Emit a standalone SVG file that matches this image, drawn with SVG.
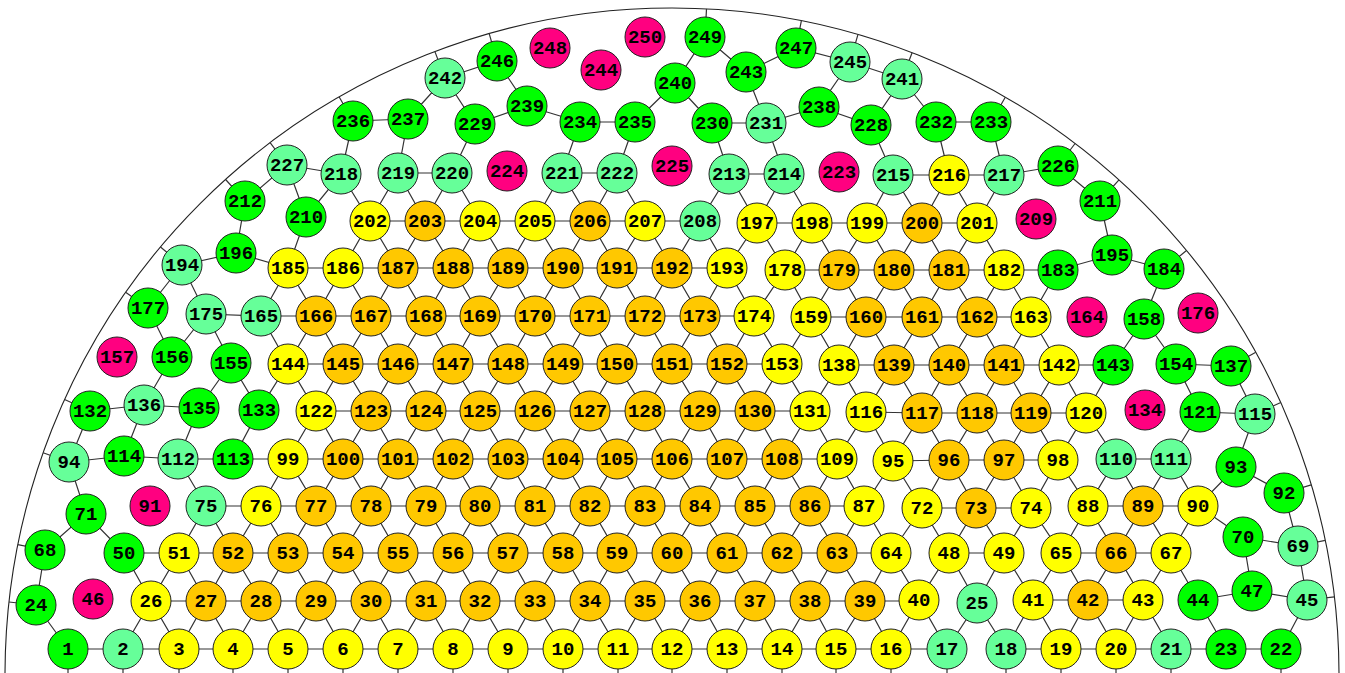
<svg xmlns="http://www.w3.org/2000/svg" width="1345" height="673" viewBox="0 0 1345 673">
<style>
.e{fill:none;stroke:#333;stroke-width:1.2}
.b{fill:none;stroke:#222;stroke-width:1.1}
.n circle{stroke:#222;stroke-width:1}
.G circle{fill:#00ff00}
.L circle{fill:#66ff99}
.Y circle{fill:#ffff00}
.O circle{fill:#ffc800}
.M circle{fill:#ff0080}
text{font-family:"Liberation Mono","DejaVu Sans Mono",monospace;font-weight:bold;font-size:19px;text-anchor:middle;fill:#000}
</style>
<rect width="1345" height="673" fill="#fff"/>
<path id="boundary" class="b" d="M5,675A667,667 0 0 1 1339,675"/>
<g id="connectors">
<path class="e" d="M68,649H947M1006,649H1281M151,601H919M1033,600H1143M1198,600L1252,591L1307,600M124,553H891M949,553H1004M1061,553H1171M1243,537L1298,546M206,506H864M922,508H1031M1088,506H1198M1236,467L1284,493M69,462L124,456L178,459H837M893,461L949,460H1058M1116,459H1171M90,411L144,405L199,408M316,411H810M866,412L922,413H1086M1200,412L1255,414M288,364H782M839,365H1113M1176,364L1231,366M206,314L261,316H754M811,317H1031M182,265L236,253L288,268H727M785,270H1058L1112,255L1164,269M370,221H700M757,223H977M287,165L341,174M398,173H452M562,173H617M729,174H784M893,175H1004L1058,166M353,121L408,119M580,122H635M712,123H766M936,122H991"/>
<path class="e" d="M123,649L151,601L179,649L206,601L233,649L261,601L288,649L316,601L343,649L371,601L398,649L426,601L453,649L480,601L508,649L535,601L563,649L590,601L618,649L645,601L672,649L700,601L727,649L755,601L782,649L810,601L836,649L865,601L891,649L919,600L947,649L977,603L1006,649L1033,600L1061,649L1088,600L1116,649L1143,600L1171,649M36,605L68,649M1198,600L1226,649M1307,600L1281,649"/>
<path class="e" d="M124,553L151,601L179,553L206,601L233,553L261,601L288,553L316,601L343,553L371,601L398,553L426,601L453,553L480,601L508,553L535,601L563,553L590,601L617,553L645,601L672,553L700,601L727,553L755,601L782,553L810,601L837,553L865,601L891,553L919,600L949,553L977,603L1004,553L1033,600L1061,553L1088,600L1116,553L1143,600L1171,553L1198,600M45,550L36,605M1243,537L1252,591M1298,546L1307,600"/>
<path class="e" d="M179,553L206,506L233,553L261,506L288,553L316,506L343,553L371,506L398,553L426,506L453,553L480,506L508,553L535,506L563,553L590,506L617,553L645,506L672,553L700,506L727,553L755,506L782,553L810,506L837,553L864,506L891,553L922,508L949,553L976,508L1004,553L1031,508L1061,553L1088,506L1116,553L1143,506L1171,553L1198,506L1243,537M45,550L86,514L124,553M1284,493L1298,546"/>
<path class="e" d="M261,506L288,459L316,506L343,459L371,506L398,459L426,506L453,459L480,506L508,459L535,506L563,459L590,506L617,459L645,506L672,459L700,506L727,459L755,506L782,459L810,506L837,459L864,506L893,461L922,508L949,460L976,508L1004,460L1031,508L1058,460L1088,506L1116,459L1143,506L1171,459L1198,506L1236,467M178,459L206,506M69,462L86,514"/>
<path class="e" d="M288,459L316,411L343,459L371,411L398,459L426,411L453,459L480,411L508,459L535,411L563,459L590,411L617,459L645,411L672,459L700,411L727,459L755,411L782,459L810,411L837,459L866,412L893,461L922,413L949,460L977,413L1004,460L1031,413L1058,460L1086,413L1116,459M90,411L69,462M144,405L124,456M199,408L178,459M259,410L233,459M1200,412L1171,459M1255,414L1236,467"/>
<path class="e" d="M199,408L231,363L259,410L288,364L316,411L343,364L371,411L398,364L426,411L453,364L480,411L508,364L535,411L563,364L590,411L617,364L645,411L672,364L700,411L727,364L755,411L782,364L810,411L839,365L866,412L894,365L922,413L949,365L977,413L1004,365L1031,413L1059,365L1086,413L1113,365M172,357L144,405M1176,364L1200,412M1231,366L1255,414"/>
<path class="e" d="M148,308L172,357L206,314L231,363M261,316L288,364L316,316L343,364L371,316L398,364L426,316L453,364L480,316L508,364L535,316L563,364L590,316L617,364L645,316L672,364L700,316L727,364L754,316L782,364L811,317L839,365L866,317L894,365L922,317L949,365L977,317L1004,365L1031,317L1059,365M1113,365L1144,319L1176,364"/>
<path class="e" d="M148,308L182,265L206,314M261,316L288,268L316,316L343,268L371,316L398,268L426,316L453,268L480,316L508,268L535,316L563,268L590,316L617,268L645,316L672,268L700,316L727,268L754,316L785,270L811,317L839,270L866,317L894,270L922,317L949,270L977,317L1004,270L1031,317L1058,270M1164,269L1144,319"/>
<path class="e" d="M245,201L236,253M306,217L288,268M343,268L370,221L398,268L425,221L453,268L480,221L508,268L535,221L563,268L590,221L617,268L645,221L672,268L700,221L727,268L757,223L785,270L812,223L839,270L867,223L894,270L922,223L949,270L977,223L1004,270M1100,201L1112,255"/>
<path class="e" d="M245,201L287,165L306,217L341,174L370,221L398,173L425,221L452,173L480,221M535,221L562,173L590,221L617,173L645,221M700,221L729,174L757,223L784,174L812,223M867,223L893,175L922,223L949,175L977,223L1004,175M1058,166L1100,201"/>
<path class="e" d="M341,174L353,121M398,173L408,119M452,173L475,124M562,173L580,122M617,173L635,122M729,174L712,123M784,174L766,123M893,175L871,125M949,175L936,122M1004,175L991,122"/>
<path class="e" d="M408,119L445,78L475,124L527,106L497,61L445,78M527,106L580,122M635,122L675,83L705,37L746,72L796,48L850,62L902,79L871,125L819,107L850,62M675,83L712,123M746,72L766,123L819,107M902,79L936,122"/>
<path class="e" d="M68,649V675M123,649V675M179,649V675M233,649V675M288,649V675M343,649V675M398,649V675M453,649V675M508,649V675M563,649V675M618,649V675M672,649V675M727,649V675M782,649V675M836,649V675M891,649V675M947,649V675M1006,649V675M1061,649V675M1116,649V675M1171,649V675M1281,649V675"/>
<path class="e" d="M36,605L9,602M45,550L17.8,544.6M69,462L43.1,452.8M90,411L64.6,399.5M148,308L125.6,292.3M182,265L160.5,247M245,201L225.6,179.5M287,165L270.1,142.7M353,121L339.2,97M445,78L434.9,51.6M497,61L489.2,33.6M705,37L706.5,8.9M796,48L801.4,20.6M850,62L858,34.4M902,79L912.1,52.7M991,122L1005.3,97.2M1058,166L1075.1,143.5M1100,201L1119,179.9M1164,269L1186.5,250.5M1231,366L1255.8,352.3M1255,414L1280.8,402.5M1284,493L1311.3,484.9M1298,546L1325.2,540.4M1307,600L1334.4,596.8"/>
</g>
<g id="n1" class="n G"><circle cx="68" cy="649" r="20"/><text x="68" y="655">1</text></g>
<g id="n2" class="n L"><circle cx="123" cy="649" r="20"/><text x="123" y="655">2</text></g>
<g id="n3" class="n Y"><circle cx="179" cy="649" r="20"/><text x="179" y="655">3</text></g>
<g id="n4" class="n Y"><circle cx="233" cy="649" r="20"/><text x="233" y="655">4</text></g>
<g id="n5" class="n Y"><circle cx="288" cy="649" r="20"/><text x="288" y="655">5</text></g>
<g id="n6" class="n Y"><circle cx="343" cy="649" r="20"/><text x="343" y="655">6</text></g>
<g id="n7" class="n Y"><circle cx="398" cy="649" r="20"/><text x="398" y="655">7</text></g>
<g id="n8" class="n Y"><circle cx="453" cy="649" r="20"/><text x="453" y="655">8</text></g>
<g id="n9" class="n Y"><circle cx="508" cy="649" r="20"/><text x="508" y="655">9</text></g>
<g id="n10" class="n Y"><circle cx="563" cy="649" r="20"/><text x="563" y="655">10</text></g>
<g id="n11" class="n Y"><circle cx="618" cy="649" r="20"/><text x="618" y="655">11</text></g>
<g id="n12" class="n Y"><circle cx="672" cy="649" r="20"/><text x="672" y="655">12</text></g>
<g id="n13" class="n Y"><circle cx="727" cy="649" r="20"/><text x="727" y="655">13</text></g>
<g id="n14" class="n Y"><circle cx="782" cy="649" r="20"/><text x="782" y="655">14</text></g>
<g id="n15" class="n Y"><circle cx="836" cy="649" r="20"/><text x="836" y="655">15</text></g>
<g id="n16" class="n Y"><circle cx="891" cy="649" r="20"/><text x="891" y="655">16</text></g>
<g id="n17" class="n L"><circle cx="947" cy="649" r="20"/><text x="947" y="655">17</text></g>
<g id="n18" class="n L"><circle cx="1006" cy="649" r="20"/><text x="1006" y="655">18</text></g>
<g id="n19" class="n Y"><circle cx="1061" cy="649" r="20"/><text x="1061" y="655">19</text></g>
<g id="n20" class="n Y"><circle cx="1116" cy="649" r="20"/><text x="1116" y="655">20</text></g>
<g id="n21" class="n L"><circle cx="1171" cy="649" r="20"/><text x="1171" y="655">21</text></g>
<g id="n22" class="n G"><circle cx="1281" cy="649" r="20"/><text x="1281" y="655">22</text></g>
<g id="n23" class="n G"><circle cx="1226" cy="649" r="20"/><text x="1226" y="655">23</text></g>
<g id="n24" class="n G"><circle cx="36" cy="605" r="20"/><text x="36" y="611">24</text></g>
<g id="n25" class="n L"><circle cx="977" cy="603" r="20"/><text x="977" y="609">25</text></g>
<g id="n26" class="n Y"><circle cx="151" cy="601" r="20"/><text x="151" y="607">26</text></g>
<g id="n27" class="n O"><circle cx="206" cy="601" r="20"/><text x="206" y="607">27</text></g>
<g id="n28" class="n O"><circle cx="261" cy="601" r="20"/><text x="261" y="607">28</text></g>
<g id="n29" class="n O"><circle cx="316" cy="601" r="20"/><text x="316" y="607">29</text></g>
<g id="n30" class="n O"><circle cx="371" cy="601" r="20"/><text x="371" y="607">30</text></g>
<g id="n31" class="n O"><circle cx="426" cy="601" r="20"/><text x="426" y="607">31</text></g>
<g id="n32" class="n O"><circle cx="480" cy="601" r="20"/><text x="480" y="607">32</text></g>
<g id="n33" class="n O"><circle cx="535" cy="601" r="20"/><text x="535" y="607">33</text></g>
<g id="n34" class="n O"><circle cx="590" cy="601" r="20"/><text x="590" y="607">34</text></g>
<g id="n35" class="n O"><circle cx="645" cy="601" r="20"/><text x="645" y="607">35</text></g>
<g id="n36" class="n O"><circle cx="700" cy="601" r="20"/><text x="700" y="607">36</text></g>
<g id="n37" class="n O"><circle cx="755" cy="601" r="20"/><text x="755" y="607">37</text></g>
<g id="n38" class="n O"><circle cx="810" cy="601" r="20"/><text x="810" y="607">38</text></g>
<g id="n39" class="n O"><circle cx="865" cy="601" r="20"/><text x="865" y="607">39</text></g>
<g id="n40" class="n Y"><circle cx="919" cy="600" r="20"/><text x="919" y="606">40</text></g>
<g id="n41" class="n Y"><circle cx="1033" cy="600" r="20"/><text x="1033" y="606">41</text></g>
<g id="n42" class="n O"><circle cx="1088" cy="600" r="20"/><text x="1088" y="606">42</text></g>
<g id="n43" class="n Y"><circle cx="1143" cy="600" r="20"/><text x="1143" y="606">43</text></g>
<g id="n44" class="n G"><circle cx="1198" cy="600" r="20"/><text x="1198" y="606">44</text></g>
<g id="n45" class="n L"><circle cx="1307" cy="600" r="20"/><text x="1307" y="606">45</text></g>
<g id="n46" class="n M"><circle cx="93" cy="599" r="20"/><text x="93" y="605">46</text></g>
<g id="n47" class="n G"><circle cx="1252" cy="591" r="20"/><text x="1252" y="597">47</text></g>
<g id="n48" class="n Y"><circle cx="949" cy="553" r="20"/><text x="949" y="559">48</text></g>
<g id="n49" class="n Y"><circle cx="1004" cy="553" r="20"/><text x="1004" y="559">49</text></g>
<g id="n50" class="n G"><circle cx="124" cy="553" r="20"/><text x="124" y="559">50</text></g>
<g id="n51" class="n Y"><circle cx="179" cy="553" r="20"/><text x="179" y="559">51</text></g>
<g id="n52" class="n O"><circle cx="233" cy="553" r="20"/><text x="233" y="559">52</text></g>
<g id="n53" class="n O"><circle cx="288" cy="553" r="20"/><text x="288" y="559">53</text></g>
<g id="n54" class="n O"><circle cx="343" cy="553" r="20"/><text x="343" y="559">54</text></g>
<g id="n55" class="n O"><circle cx="398" cy="553" r="20"/><text x="398" y="559">55</text></g>
<g id="n56" class="n O"><circle cx="453" cy="553" r="20"/><text x="453" y="559">56</text></g>
<g id="n57" class="n O"><circle cx="508" cy="553" r="20"/><text x="508" y="559">57</text></g>
<g id="n58" class="n O"><circle cx="563" cy="553" r="20"/><text x="563" y="559">58</text></g>
<g id="n59" class="n O"><circle cx="617" cy="553" r="20"/><text x="617" y="559">59</text></g>
<g id="n60" class="n O"><circle cx="672" cy="553" r="20"/><text x="672" y="559">60</text></g>
<g id="n61" class="n O"><circle cx="727" cy="553" r="20"/><text x="727" y="559">61</text></g>
<g id="n62" class="n O"><circle cx="782" cy="553" r="20"/><text x="782" y="559">62</text></g>
<g id="n63" class="n O"><circle cx="837" cy="553" r="20"/><text x="837" y="559">63</text></g>
<g id="n64" class="n Y"><circle cx="891" cy="553" r="20"/><text x="891" y="559">64</text></g>
<g id="n65" class="n Y"><circle cx="1061" cy="553" r="20"/><text x="1061" y="559">65</text></g>
<g id="n66" class="n O"><circle cx="1116" cy="553" r="20"/><text x="1116" y="559">66</text></g>
<g id="n67" class="n Y"><circle cx="1171" cy="553" r="20"/><text x="1171" y="559">67</text></g>
<g id="n68" class="n G"><circle cx="45" cy="550" r="20"/><text x="45" y="556">68</text></g>
<g id="n69" class="n L"><circle cx="1298" cy="546" r="20"/><text x="1298" y="552">69</text></g>
<g id="n70" class="n G"><circle cx="1243" cy="537" r="20"/><text x="1243" y="543">70</text></g>
<g id="n71" class="n G"><circle cx="86" cy="514" r="20"/><text x="86" y="520">71</text></g>
<g id="n72" class="n Y"><circle cx="922" cy="508" r="20"/><text x="922" y="514">72</text></g>
<g id="n73" class="n O"><circle cx="976" cy="508" r="20"/><text x="976" y="514">73</text></g>
<g id="n74" class="n Y"><circle cx="1031" cy="508" r="20"/><text x="1031" y="514">74</text></g>
<g id="n75" class="n L"><circle cx="206" cy="506" r="20"/><text x="206" y="512">75</text></g>
<g id="n76" class="n Y"><circle cx="261" cy="506" r="20"/><text x="261" y="512">76</text></g>
<g id="n77" class="n O"><circle cx="316" cy="506" r="20"/><text x="316" y="512">77</text></g>
<g id="n78" class="n O"><circle cx="371" cy="506" r="20"/><text x="371" y="512">78</text></g>
<g id="n79" class="n O"><circle cx="426" cy="506" r="20"/><text x="426" y="512">79</text></g>
<g id="n80" class="n O"><circle cx="480" cy="506" r="20"/><text x="480" y="512">80</text></g>
<g id="n81" class="n O"><circle cx="535" cy="506" r="20"/><text x="535" y="512">81</text></g>
<g id="n82" class="n O"><circle cx="590" cy="506" r="20"/><text x="590" y="512">82</text></g>
<g id="n83" class="n O"><circle cx="645" cy="506" r="20"/><text x="645" y="512">83</text></g>
<g id="n84" class="n O"><circle cx="700" cy="506" r="20"/><text x="700" y="512">84</text></g>
<g id="n85" class="n O"><circle cx="755" cy="506" r="20"/><text x="755" y="512">85</text></g>
<g id="n86" class="n O"><circle cx="810" cy="506" r="20"/><text x="810" y="512">86</text></g>
<g id="n87" class="n Y"><circle cx="864" cy="506" r="20"/><text x="864" y="512">87</text></g>
<g id="n88" class="n Y"><circle cx="1088" cy="506" r="20"/><text x="1088" y="512">88</text></g>
<g id="n89" class="n O"><circle cx="1143" cy="506" r="20"/><text x="1143" y="512">89</text></g>
<g id="n90" class="n Y"><circle cx="1198" cy="506" r="20"/><text x="1198" y="512">90</text></g>
<g id="n91" class="n M"><circle cx="150" cy="506" r="20"/><text x="150" y="512">91</text></g>
<g id="n92" class="n G"><circle cx="1284" cy="493" r="20"/><text x="1284" y="499">92</text></g>
<g id="n93" class="n G"><circle cx="1236" cy="467" r="20"/><text x="1236" y="473">93</text></g>
<g id="n94" class="n L"><circle cx="69" cy="462" r="20"/><text x="69" y="468">94</text></g>
<g id="n95" class="n Y"><circle cx="893" cy="461" r="20"/><text x="893" y="467">95</text></g>
<g id="n96" class="n O"><circle cx="949" cy="460" r="20"/><text x="949" y="466">96</text></g>
<g id="n97" class="n O"><circle cx="1004" cy="460" r="20"/><text x="1004" y="466">97</text></g>
<g id="n98" class="n Y"><circle cx="1058" cy="460" r="20"/><text x="1058" y="466">98</text></g>
<g id="n99" class="n Y"><circle cx="288" cy="459" r="20"/><text x="288" y="465">99</text></g>
<g id="n100" class="n O"><circle cx="343" cy="459" r="20"/><text x="343" y="465">100</text></g>
<g id="n101" class="n O"><circle cx="398" cy="459" r="20"/><text x="398" y="465">101</text></g>
<g id="n102" class="n O"><circle cx="453" cy="459" r="20"/><text x="453" y="465">102</text></g>
<g id="n103" class="n O"><circle cx="508" cy="459" r="20"/><text x="508" y="465">103</text></g>
<g id="n104" class="n O"><circle cx="563" cy="459" r="20"/><text x="563" y="465">104</text></g>
<g id="n105" class="n O"><circle cx="617" cy="459" r="20"/><text x="617" y="465">105</text></g>
<g id="n106" class="n O"><circle cx="672" cy="459" r="20"/><text x="672" y="465">106</text></g>
<g id="n107" class="n O"><circle cx="727" cy="459" r="20"/><text x="727" y="465">107</text></g>
<g id="n108" class="n O"><circle cx="782" cy="459" r="20"/><text x="782" y="465">108</text></g>
<g id="n109" class="n Y"><circle cx="837" cy="459" r="20"/><text x="837" y="465">109</text></g>
<g id="n110" class="n L"><circle cx="1116" cy="459" r="20"/><text x="1116" y="465">110</text></g>
<g id="n111" class="n L"><circle cx="1171" cy="459" r="20"/><text x="1171" y="465">111</text></g>
<g id="n112" class="n L"><circle cx="178" cy="459" r="20"/><text x="178" y="465">112</text></g>
<g id="n113" class="n G"><circle cx="233" cy="459" r="20"/><text x="233" y="465">113</text></g>
<g id="n114" class="n G"><circle cx="124" cy="456" r="20"/><text x="124" y="462">114</text></g>
<g id="n115" class="n L"><circle cx="1255" cy="414" r="20"/><text x="1255" y="420">115</text></g>
<g id="n116" class="n Y"><circle cx="866" cy="412" r="20"/><text x="866" y="418">116</text></g>
<g id="n117" class="n O"><circle cx="922" cy="413" r="20"/><text x="922" y="419">117</text></g>
<g id="n118" class="n O"><circle cx="977" cy="413" r="20"/><text x="977" y="419">118</text></g>
<g id="n119" class="n O"><circle cx="1031" cy="413" r="20"/><text x="1031" y="419">119</text></g>
<g id="n120" class="n Y"><circle cx="1086" cy="413" r="20"/><text x="1086" y="419">120</text></g>
<g id="n121" class="n G"><circle cx="1200" cy="412" r="20"/><text x="1200" y="418">121</text></g>
<g id="n122" class="n Y"><circle cx="316" cy="411" r="20"/><text x="316" y="417">122</text></g>
<g id="n123" class="n O"><circle cx="371" cy="411" r="20"/><text x="371" y="417">123</text></g>
<g id="n124" class="n O"><circle cx="426" cy="411" r="20"/><text x="426" y="417">124</text></g>
<g id="n125" class="n O"><circle cx="480" cy="411" r="20"/><text x="480" y="417">125</text></g>
<g id="n126" class="n O"><circle cx="535" cy="411" r="20"/><text x="535" y="417">126</text></g>
<g id="n127" class="n O"><circle cx="590" cy="411" r="20"/><text x="590" y="417">127</text></g>
<g id="n128" class="n O"><circle cx="645" cy="411" r="20"/><text x="645" y="417">128</text></g>
<g id="n129" class="n O"><circle cx="700" cy="411" r="20"/><text x="700" y="417">129</text></g>
<g id="n130" class="n O"><circle cx="755" cy="411" r="20"/><text x="755" y="417">130</text></g>
<g id="n131" class="n Y"><circle cx="810" cy="411" r="20"/><text x="810" y="417">131</text></g>
<g id="n132" class="n G"><circle cx="90" cy="411" r="20"/><text x="90" y="417">132</text></g>
<g id="n133" class="n G"><circle cx="259" cy="410" r="20"/><text x="259" y="416">133</text></g>
<g id="n134" class="n M"><circle cx="1145" cy="410" r="20"/><text x="1145" y="416">134</text></g>
<g id="n135" class="n G"><circle cx="199" cy="408" r="20"/><text x="199" y="414">135</text></g>
<g id="n136" class="n L"><circle cx="144" cy="405" r="20"/><text x="144" y="411">136</text></g>
<g id="n137" class="n G"><circle cx="1231" cy="366" r="20"/><text x="1231" y="372">137</text></g>
<g id="n138" class="n Y"><circle cx="839" cy="365" r="20"/><text x="839" y="371">138</text></g>
<g id="n139" class="n O"><circle cx="894" cy="365" r="20"/><text x="894" y="371">139</text></g>
<g id="n140" class="n O"><circle cx="949" cy="365" r="20"/><text x="949" y="371">140</text></g>
<g id="n141" class="n O"><circle cx="1004" cy="365" r="20"/><text x="1004" y="371">141</text></g>
<g id="n142" class="n Y"><circle cx="1059" cy="365" r="20"/><text x="1059" y="371">142</text></g>
<g id="n143" class="n G"><circle cx="1113" cy="365" r="20"/><text x="1113" y="371">143</text></g>
<g id="n144" class="n Y"><circle cx="288" cy="364" r="20"/><text x="288" y="370">144</text></g>
<g id="n145" class="n O"><circle cx="343" cy="364" r="20"/><text x="343" y="370">145</text></g>
<g id="n146" class="n O"><circle cx="398" cy="364" r="20"/><text x="398" y="370">146</text></g>
<g id="n147" class="n O"><circle cx="453" cy="364" r="20"/><text x="453" y="370">147</text></g>
<g id="n148" class="n O"><circle cx="508" cy="364" r="20"/><text x="508" y="370">148</text></g>
<g id="n149" class="n O"><circle cx="563" cy="364" r="20"/><text x="563" y="370">149</text></g>
<g id="n150" class="n O"><circle cx="617" cy="364" r="20"/><text x="617" y="370">150</text></g>
<g id="n151" class="n O"><circle cx="672" cy="364" r="20"/><text x="672" y="370">151</text></g>
<g id="n152" class="n O"><circle cx="727" cy="364" r="20"/><text x="727" y="370">152</text></g>
<g id="n153" class="n Y"><circle cx="782" cy="364" r="20"/><text x="782" y="370">153</text></g>
<g id="n154" class="n G"><circle cx="1176" cy="364" r="20"/><text x="1176" y="370">154</text></g>
<g id="n155" class="n G"><circle cx="231" cy="363" r="20"/><text x="231" y="369">155</text></g>
<g id="n156" class="n G"><circle cx="172" cy="357" r="20"/><text x="172" y="363">156</text></g>
<g id="n157" class="n M"><circle cx="117" cy="357" r="20"/><text x="117" y="363">157</text></g>
<g id="n158" class="n G"><circle cx="1144" cy="319" r="20"/><text x="1144" y="325">158</text></g>
<g id="n159" class="n Y"><circle cx="811" cy="317" r="20"/><text x="811" y="323">159</text></g>
<g id="n160" class="n O"><circle cx="866" cy="317" r="20"/><text x="866" y="323">160</text></g>
<g id="n161" class="n O"><circle cx="922" cy="317" r="20"/><text x="922" y="323">161</text></g>
<g id="n162" class="n O"><circle cx="977" cy="317" r="20"/><text x="977" y="323">162</text></g>
<g id="n163" class="n Y"><circle cx="1031" cy="317" r="20"/><text x="1031" y="323">163</text></g>
<g id="n164" class="n M"><circle cx="1087" cy="317" r="20"/><text x="1087" y="323">164</text></g>
<g id="n165" class="n L"><circle cx="261" cy="316" r="20"/><text x="261" y="322">165</text></g>
<g id="n166" class="n O"><circle cx="316" cy="316" r="20"/><text x="316" y="322">166</text></g>
<g id="n167" class="n O"><circle cx="371" cy="316" r="20"/><text x="371" y="322">167</text></g>
<g id="n168" class="n O"><circle cx="426" cy="316" r="20"/><text x="426" y="322">168</text></g>
<g id="n169" class="n O"><circle cx="480" cy="316" r="20"/><text x="480" y="322">169</text></g>
<g id="n170" class="n O"><circle cx="535" cy="316" r="20"/><text x="535" y="322">170</text></g>
<g id="n171" class="n O"><circle cx="590" cy="316" r="20"/><text x="590" y="322">171</text></g>
<g id="n172" class="n O"><circle cx="645" cy="316" r="20"/><text x="645" y="322">172</text></g>
<g id="n173" class="n O"><circle cx="700" cy="316" r="20"/><text x="700" y="322">173</text></g>
<g id="n174" class="n Y"><circle cx="754" cy="316" r="20"/><text x="754" y="322">174</text></g>
<g id="n175" class="n L"><circle cx="206" cy="314" r="20"/><text x="206" y="320">175</text></g>
<g id="n176" class="n M"><circle cx="1198" cy="313" r="20"/><text x="1198" y="319">176</text></g>
<g id="n177" class="n G"><circle cx="148" cy="308" r="20"/><text x="148" y="314">177</text></g>
<g id="n178" class="n Y"><circle cx="785" cy="270" r="20"/><text x="785" y="276">178</text></g>
<g id="n179" class="n O"><circle cx="839" cy="270" r="20"/><text x="839" y="276">179</text></g>
<g id="n180" class="n O"><circle cx="894" cy="270" r="20"/><text x="894" y="276">180</text></g>
<g id="n181" class="n O"><circle cx="949" cy="270" r="20"/><text x="949" y="276">181</text></g>
<g id="n182" class="n Y"><circle cx="1004" cy="270" r="20"/><text x="1004" y="276">182</text></g>
<g id="n183" class="n G"><circle cx="1058" cy="270" r="20"/><text x="1058" y="276">183</text></g>
<g id="n184" class="n G"><circle cx="1164" cy="269" r="20"/><text x="1164" y="275">184</text></g>
<g id="n185" class="n Y"><circle cx="288" cy="268" r="20"/><text x="288" y="274">185</text></g>
<g id="n186" class="n Y"><circle cx="343" cy="268" r="20"/><text x="343" y="274">186</text></g>
<g id="n187" class="n O"><circle cx="398" cy="268" r="20"/><text x="398" y="274">187</text></g>
<g id="n188" class="n O"><circle cx="453" cy="268" r="20"/><text x="453" y="274">188</text></g>
<g id="n189" class="n O"><circle cx="508" cy="268" r="20"/><text x="508" y="274">189</text></g>
<g id="n190" class="n O"><circle cx="563" cy="268" r="20"/><text x="563" y="274">190</text></g>
<g id="n191" class="n O"><circle cx="617" cy="268" r="20"/><text x="617" y="274">191</text></g>
<g id="n192" class="n O"><circle cx="672" cy="268" r="20"/><text x="672" y="274">192</text></g>
<g id="n193" class="n Y"><circle cx="727" cy="268" r="20"/><text x="727" y="274">193</text></g>
<g id="n194" class="n L"><circle cx="182" cy="265" r="20"/><text x="182" y="271">194</text></g>
<g id="n195" class="n G"><circle cx="1112" cy="255" r="20"/><text x="1112" y="261">195</text></g>
<g id="n196" class="n G"><circle cx="236" cy="253" r="20"/><text x="236" y="259">196</text></g>
<g id="n197" class="n Y"><circle cx="757" cy="223" r="20"/><text x="757" y="229">197</text></g>
<g id="n198" class="n Y"><circle cx="812" cy="223" r="20"/><text x="812" y="229">198</text></g>
<g id="n199" class="n Y"><circle cx="867" cy="223" r="20"/><text x="867" y="229">199</text></g>
<g id="n200" class="n O"><circle cx="922" cy="223" r="20"/><text x="922" y="229">200</text></g>
<g id="n201" class="n Y"><circle cx="977" cy="223" r="20"/><text x="977" y="229">201</text></g>
<g id="n202" class="n Y"><circle cx="370" cy="221" r="20"/><text x="370" y="227">202</text></g>
<g id="n203" class="n O"><circle cx="425" cy="221" r="20"/><text x="425" y="227">203</text></g>
<g id="n204" class="n Y"><circle cx="480" cy="221" r="20"/><text x="480" y="227">204</text></g>
<g id="n205" class="n Y"><circle cx="535" cy="221" r="20"/><text x="535" y="227">205</text></g>
<g id="n206" class="n O"><circle cx="590" cy="221" r="20"/><text x="590" y="227">206</text></g>
<g id="n207" class="n Y"><circle cx="645" cy="221" r="20"/><text x="645" y="227">207</text></g>
<g id="n208" class="n L"><circle cx="700" cy="221" r="20"/><text x="700" y="227">208</text></g>
<g id="n209" class="n M"><circle cx="1036" cy="219" r="20"/><text x="1036" y="225">209</text></g>
<g id="n210" class="n G"><circle cx="306" cy="217" r="20"/><text x="306" y="223">210</text></g>
<g id="n211" class="n G"><circle cx="1100" cy="201" r="20"/><text x="1100" y="207">211</text></g>
<g id="n212" class="n G"><circle cx="245" cy="201" r="20"/><text x="245" y="207">212</text></g>
<g id="n213" class="n L"><circle cx="729" cy="174" r="20"/><text x="729" y="180">213</text></g>
<g id="n214" class="n L"><circle cx="784" cy="174" r="20"/><text x="784" y="180">214</text></g>
<g id="n215" class="n L"><circle cx="893" cy="175" r="20"/><text x="893" y="181">215</text></g>
<g id="n216" class="n Y"><circle cx="949" cy="175" r="20"/><text x="949" y="181">216</text></g>
<g id="n217" class="n L"><circle cx="1004" cy="175" r="20"/><text x="1004" y="181">217</text></g>
<g id="n218" class="n L"><circle cx="341" cy="174" r="20"/><text x="341" y="180">218</text></g>
<g id="n219" class="n L"><circle cx="398" cy="173" r="20"/><text x="398" y="179">219</text></g>
<g id="n220" class="n L"><circle cx="452" cy="173" r="20"/><text x="452" y="179">220</text></g>
<g id="n221" class="n L"><circle cx="562" cy="173" r="20"/><text x="562" y="179">221</text></g>
<g id="n222" class="n L"><circle cx="617" cy="173" r="20"/><text x="617" y="179">222</text></g>
<g id="n223" class="n M"><circle cx="839" cy="172" r="20"/><text x="839" y="178">223</text></g>
<g id="n224" class="n M"><circle cx="507" cy="171" r="20"/><text x="507" y="177">224</text></g>
<g id="n225" class="n M"><circle cx="672" cy="166" r="20"/><text x="672" y="172">225</text></g>
<g id="n226" class="n G"><circle cx="1058" cy="166" r="20"/><text x="1058" y="172">226</text></g>
<g id="n227" class="n L"><circle cx="287" cy="165" r="20"/><text x="287" y="171">227</text></g>
<g id="n228" class="n G"><circle cx="871" cy="125" r="20"/><text x="871" y="131">228</text></g>
<g id="n229" class="n G"><circle cx="475" cy="124" r="20"/><text x="475" y="130">229</text></g>
<g id="n230" class="n G"><circle cx="712" cy="123" r="20"/><text x="712" y="129">230</text></g>
<g id="n231" class="n L"><circle cx="766" cy="123" r="20"/><text x="766" y="129">231</text></g>
<g id="n232" class="n G"><circle cx="936" cy="122" r="20"/><text x="936" y="128">232</text></g>
<g id="n233" class="n G"><circle cx="991" cy="122" r="20"/><text x="991" y="128">233</text></g>
<g id="n234" class="n G"><circle cx="580" cy="122" r="20"/><text x="580" y="128">234</text></g>
<g id="n235" class="n G"><circle cx="635" cy="122" r="20"/><text x="635" y="128">235</text></g>
<g id="n236" class="n G"><circle cx="353" cy="121" r="20"/><text x="353" y="127">236</text></g>
<g id="n237" class="n G"><circle cx="408" cy="119" r="20"/><text x="408" y="125">237</text></g>
<g id="n238" class="n G"><circle cx="819" cy="107" r="20"/><text x="819" y="113">238</text></g>
<g id="n239" class="n G"><circle cx="527" cy="106" r="20"/><text x="527" y="112">239</text></g>
<g id="n240" class="n G"><circle cx="675" cy="83" r="20"/><text x="675" y="89">240</text></g>
<g id="n241" class="n L"><circle cx="902" cy="79" r="20"/><text x="902" y="85">241</text></g>
<g id="n242" class="n L"><circle cx="445" cy="78" r="20"/><text x="445" y="84">242</text></g>
<g id="n243" class="n G"><circle cx="746" cy="72" r="20"/><text x="746" y="78">243</text></g>
<g id="n244" class="n M"><circle cx="601" cy="70" r="20"/><text x="601" y="76">244</text></g>
<g id="n245" class="n L"><circle cx="850" cy="62" r="20"/><text x="850" y="68">245</text></g>
<g id="n246" class="n G"><circle cx="497" cy="61" r="20"/><text x="497" y="67">246</text></g>
<g id="n247" class="n G"><circle cx="796" cy="48" r="20"/><text x="796" y="54">247</text></g>
<g id="n248" class="n M"><circle cx="550" cy="48" r="20"/><text x="550" y="54">248</text></g>
<g id="n249" class="n G"><circle cx="705" cy="37" r="20"/><text x="705" y="43">249</text></g>
<g id="n250" class="n M"><circle cx="645" cy="37" r="20"/><text x="645" y="43">250</text></g>
</svg>
